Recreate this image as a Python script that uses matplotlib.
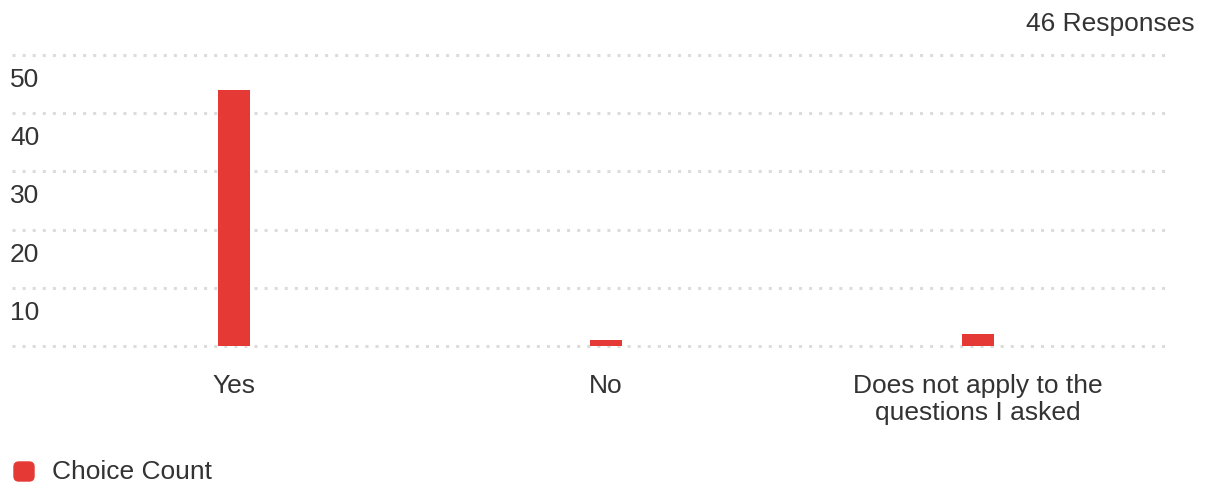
import matplotlib.pyplot as plt
from matplotlib.patches import FancyBboxPatch
from matplotlib.transforms import ScaledTranslation

plt.rcParams["font.family"] = ["Liberation Sans", "DejaVu Sans"]

categories = ["Yes", "No", "Does not apply to the\nquestions I asked"]
counts = [44, 1, 2]
y_ticks = [0, 10, 20, 30, 40, 50]
total_label = "46 Responses"
legend_label = "Choice Count"

BAR = "#e53935"
GRID = "#dcdcdc"
TEXT = "#333333"
FS = 19

W, H, DPI = 1207, 488, 100
fig = plt.figure(figsize=(W / DPI, H / DPI), dpi=DPI)
ax = fig.add_axes([12 / W, (H - 346) / H, (1165 - 12) / W, (346 - 55) / H])

xs = list(range(len(categories)))
ax.bar(xs, counts, width=0.086, color=BAR, zorder=3)
ax.set_xlim(-0.597, 2.503)
ax.set_ylim(0, 50)

for v in y_ticks:
    ax.axhline(v, color=GRID, lw=2.2, dashes=(1.0, 2.3), clip_on=False, zorder=1)
    if v > 0:
        off = ScaledTranslation(-2 / DPI, -25 / DPI, fig.dpi_scale_trans)
        ax.text(0, v, str(v), transform=ax.get_yaxis_transform() + off,
                ha="left", va="center", fontsize=FS, color=TEXT)

ax.set_yticks([])
ax.set_xticks(xs, labels=categories)
ax.tick_params(axis="x", length=0, pad=20, labelsize=FS, labelcolor=TEXT)
for lab in ax.get_xticklabels():
    lab.set_linespacing(1.15)
for s in ax.spines.values():
    s.set_visible(False)

fig.text(1195 / W, 1 - 24 / H, total_label, ha="right", va="center",
         fontsize=FS, color=TEXT)

# legend swatch + label
sw = FancyBboxPatch((14 / W, 1 - 481 / H), 20 / W, 19 / H,
                    boxstyle="round,pad=0,rounding_size=0.004",
                    transform=fig.transFigure, color=BAR, mutation_aspect=W / H)
fig.patches.append(sw)
fig.text(52 / W, 1 - 472 / H, legend_label, ha="left", va="center",
         fontsize=FS, color=TEXT)

fig.savefig("out.png", dpi=DPI)
